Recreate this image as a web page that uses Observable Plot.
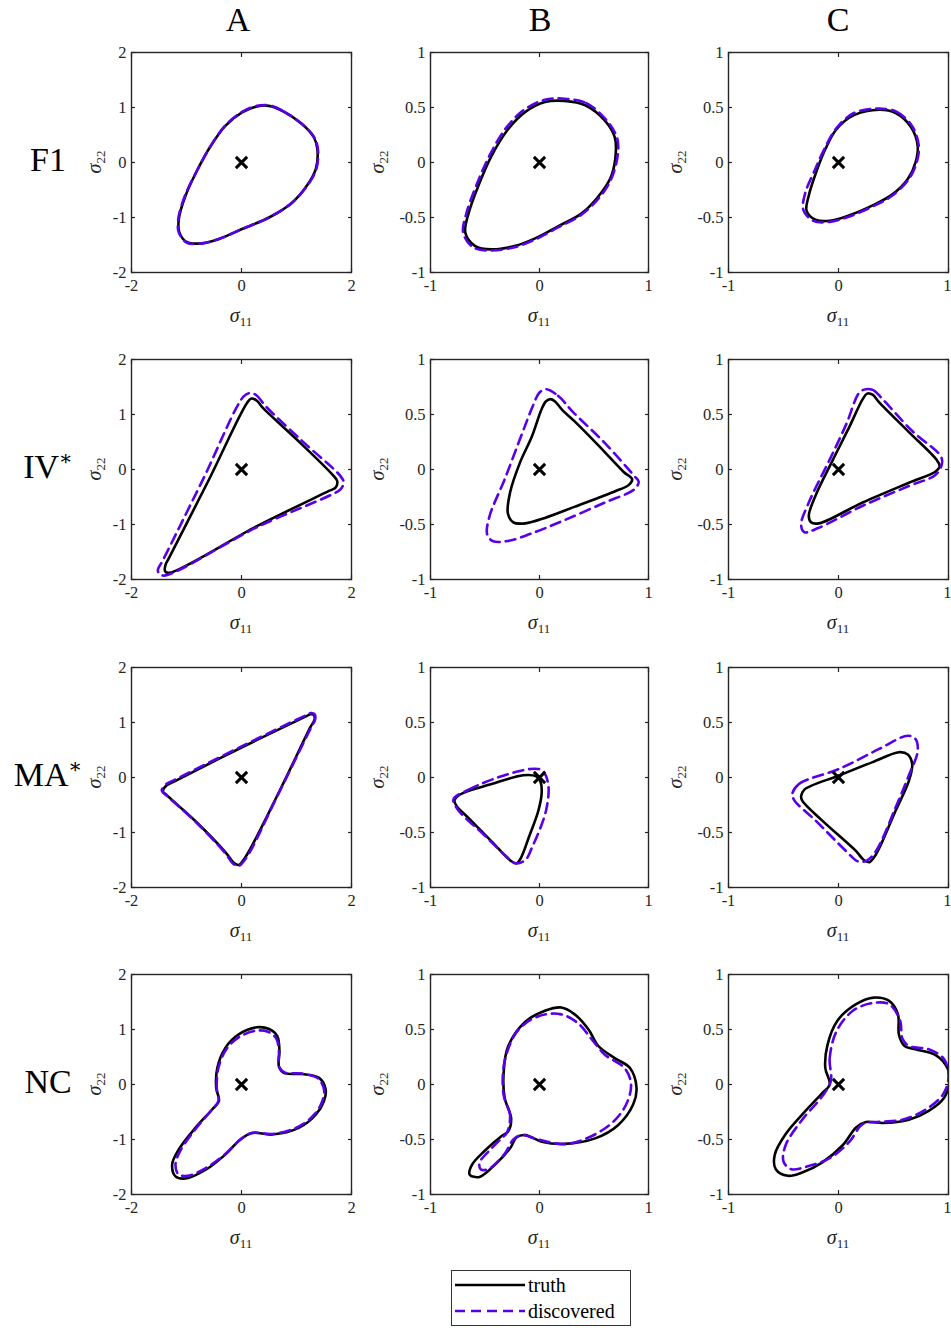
<!DOCTYPE html>
<html><head><meta charset="utf-8">
<script src="https://cdn.jsdelivr.net/npm/d3@7"></script>
<script src="https://cdn.jsdelivr.net/npm/@observablehq/plot@0.6"></script>
<style>
html,body{margin:0;padding:0;background:#fff;overflow:hidden;}
#root{position:relative;width:951px;height:1328px;overflow:hidden;font-family:"Liberation Serif","DejaVu Serif",serif;color:#000;}
.lab{position:absolute;white-space:nowrap;line-height:1;}
.axl{font-size:20px;color:#262626;}
.axl i{font-style:italic;}
.axl sub{font-size:0.65em;vertical-align:-0.3em;line-height:0;}
.hdr{font-size:34px;}
.hdr sup{font-size:0.6em;vertical-align:0.65em;line-height:0;}
#legend{position:absolute;left:451px;top:1270px;width:178px;height:54px;border:1.3px solid #333;background:#fff;font-size:20px;}
#legend .row{position:absolute;left:2px;height:20px;display:flex;align-items:center;}
#legend svg{display:block;}
</style>
</head><body><div id="root"></div>
<script>
// ---- categories / ticks ----
const rowNames = ["F1", "IV∗", "MA∗", "NC"];
const colNames = ["A", "B", "C"];
const xTicksA = [-2, 0, 2];
const yTicksA = [-2, -1, 0, 1, 2];
const xTicksBC = [-1, 0, 1];
const yTicksBC = [-1, -0.5, 0, 0.5, 1];
const seriesNames = ["truth", "discovered"];
const origin = [[0, 0]];

// ---- F1 ----
const F1_A_truth = [[0.50,1.03],[0.74,0.94],[1.10,0.70],[1.32,0.45],[1.38,0.24],[1.35,-0.12],[1.19,-0.42],[0.92,-0.73],[0.50,-1.00],[0.01,-1.21],[-0.41,-1.39],[-0.72,-1.47],[-0.99,-1.45],[-1.13,-1.27],[-1.14,-1.03],[-1.02,-0.61],[-0.81,-0.15],[-0.56,0.30],[-0.29,0.67],[0.01,0.91],[0.28,1.02]];
const F1_A_disc = [[0.50,1.04],[0.75,0.94],[1.10,0.70],[1.32,0.46],[1.39,0.24],[1.36,-0.12],[1.19,-0.43],[0.92,-0.73],[0.50,-1.00],[0.01,-1.21],[-0.41,-1.39],[-0.72,-1.47],[-0.99,-1.46],[-1.14,-1.27],[-1.15,-1.03],[-1.03,-0.61],[-0.81,-0.15],[-0.56,0.30],[-0.29,0.68],[0.01,0.92],[0.28,1.03]];
const F1_B_truth = [[0.23,0.56],[0.42,0.52],[0.60,0.38],[0.69,0.23],[0.70,0.09],[0.66,-0.12],[0.57,-0.27],[0.39,-0.46],[0.17,-0.58],[-0.04,-0.69],[-0.23,-0.76],[-0.44,-0.79],[-0.59,-0.76],[-0.68,-0.64],[-0.65,-0.46],[-0.56,-0.21],[-0.44,0.06],[-0.29,0.30],[-0.13,0.46],[0.05,0.55]];
const F1_B_disc = [[0.23,0.58],[0.43,0.54],[0.61,0.39],[0.71,0.23],[0.72,0.09],[0.67,-0.12],[0.58,-0.28],[0.39,-0.47],[0.17,-0.59],[-0.04,-0.70],[-0.23,-0.77],[-0.45,-0.80],[-0.61,-0.77],[-0.70,-0.64],[-0.67,-0.46],[-0.58,-0.21],[-0.46,0.06],[-0.31,0.31],[-0.14,0.48],[0.05,0.57]];
const F1_C_truth = [[0.37,0.48],[0.52,0.45],[0.66,0.32],[0.72,0.15],[0.70,0.00],[0.63,-0.15],[0.49,-0.29],[0.31,-0.39],[0.10,-0.48],[-0.08,-0.53],[-0.21,-0.52],[-0.29,-0.44],[-0.27,-0.30],[-0.20,-0.08],[-0.12,0.12],[-0.02,0.30],[0.14,0.43]];
const F1_C_disc = [[0.37,0.49],[0.53,0.46],[0.67,0.33],[0.73,0.15],[0.71,0.00],[0.64,-0.15],[0.49,-0.30],[0.31,-0.40],[0.10,-0.49],[-0.08,-0.54],[-0.23,-0.53],[-0.32,-0.43],[-0.30,-0.27],[-0.22,-0.08],[-0.13,0.12],[-0.02,0.31],[0.14,0.45]];

// ---- IV* ----
const IV_A_truth = [[0.18,1.29],[0.28,1.25],[0.38,1.13],[1.00,0.55],[1.65,-0.09],[1.74,-0.21],[1.71,-0.33],[1.59,-0.39],[0.30,-1.02],[-1.32,-1.88],[-1.39,-1.85],[-1.38,-1.73],[-1.32,-1.61],[-0.60,-0.20],[0.10,1.21]];
const IV_A_disc = [[0.15,1.39],[0.27,1.35],[0.44,1.15],[1.10,0.52],[1.80,-0.12],[1.86,-0.24],[1.80,-0.36],[1.65,-0.45],[0.30,-1.04],[-1.41,-1.93],[-1.50,-1.89],[-1.52,-1.82],[-1.44,-1.67],[-0.70,-0.18],[0.04,1.33]];
const IV_B_truth = [[0.10,0.64],[0.14,0.62],[0.21,0.54],[0.32,0.44],[0.54,0.22],[0.77,-0.02],[0.85,-0.09],[0.82,-0.14],[0.69,-0.20],[0.32,-0.34],[0.05,-0.44],[-0.13,-0.49],[-0.24,-0.48],[-0.29,-0.40],[-0.27,-0.21],[-0.18,0.06],[-0.07,0.30],[0.02,0.55],[0.06,0.62]];
const IV_B_disc = [[0.06,0.73],[0.17,0.67],[0.31,0.52],[0.60,0.24],[0.87,-0.06],[0.91,-0.11],[0.87,-0.18],[0.60,-0.30],[0.23,-0.46],[-0.07,-0.58],[-0.29,-0.65],[-0.43,-0.65],[-0.48,-0.59],[-0.46,-0.43],[-0.32,-0.09],[-0.17,0.30],[-0.06,0.58],[0.00,0.70]];
const IV_C_truth = [[0.26,0.69],[0.31,0.68],[0.37,0.61],[0.64,0.34],[0.89,0.09],[0.92,0.03],[0.88,-0.02],[0.64,-0.12],[0.22,-0.30],[-0.18,-0.49],[-0.25,-0.48],[-0.27,-0.42],[-0.21,-0.24],[-0.05,0.09],[0.10,0.39],[0.22,0.64]];
const IV_C_disc = [[0.25,0.73],[0.32,0.72],[0.40,0.64],[0.67,0.35],[0.93,0.12],[0.94,0.05],[0.88,-0.05],[0.64,-0.15],[0.22,-0.33],[-0.18,-0.53],[-0.31,-0.57],[-0.34,-0.50],[-0.27,-0.30],[-0.08,0.09],[0.07,0.41],[0.19,0.70]];

// ---- MA* ----
const MA_A_truth = [[1.25,1.15],[1.31,1.14],[1.33,1.06],[1.25,0.91],[0.64,-0.35],[0.07,-1.45],[-0.05,-1.59],[-0.14,-1.55],[-0.29,-1.36],[-0.84,-0.79],[-1.35,-0.33],[-1.43,-0.25],[-1.37,-0.15],[-1.20,-0.06],[0.01,0.55],[1.19,1.12]];
const MA_A_disc = [[1.26,1.17],[1.33,1.15],[1.34,1.06],[1.26,0.90],[0.64,-0.36],[0.08,-1.47],[-0.06,-1.61],[-0.16,-1.56],[-0.30,-1.37],[-0.85,-0.79],[-1.36,-0.33],[-1.45,-0.24],[-1.38,-0.13],[-1.21,-0.04],[0.01,0.57],[1.19,1.14]];
const MA_B_truth = [[-0.78,-0.21],[-0.72,-0.15],[-0.44,-0.06],[-0.15,0.02],[-0.03,0.01],[0.01,-0.04],[0.02,-0.14],[-0.01,-0.30],[-0.10,-0.55],[-0.17,-0.73],[-0.21,-0.78],[-0.26,-0.76],[-0.44,-0.58],[-0.65,-0.37],[-0.76,-0.26]];
const MA_B_disc = [[-0.79,-0.20],[-0.65,-0.11],[-0.29,0.03],[-0.04,0.08],[0.03,0.06],[0.08,-0.06],[0.06,-0.30],[-0.07,-0.64],[-0.13,-0.75],[-0.22,-0.78],[-0.29,-0.73],[-0.50,-0.53],[-0.75,-0.29]];
const MA_C_truth = [[-0.34,-0.17],[-0.31,-0.11],[0.01,0.02],[0.31,0.14],[0.55,0.23],[0.63,0.21],[0.67,0.12],[0.64,-0.03],[0.52,-0.30],[0.34,-0.70],[0.28,-0.77],[0.23,-0.75],[0.16,-0.67],[-0.15,-0.39],[-0.33,-0.21]];
const MA_C_disc = [[-0.42,-0.15],[-0.36,-0.06],[0.01,0.08],[0.37,0.26],[0.63,0.38],[0.70,0.35],[0.72,0.24],[0.64,0.02],[0.52,-0.27],[0.34,-0.67],[0.25,-0.76],[0.17,-0.76],[0.07,-0.67],[-0.21,-0.39],[-0.40,-0.21]];

// ---- NC ----
const NC_A_truth = [[-0.41,-0.30],[-0.46,-0.06],[-0.44,0.30],[-0.29,0.67],[-0.05,0.91],[0.28,1.04],[0.50,1.01],[0.65,0.88],[0.69,0.61],[0.68,0.33],[0.77,0.21],[1.10,0.19],[1.41,0.12],[1.53,-0.09],[1.50,-0.30],[1.35,-0.55],[1.04,-0.79],[0.56,-0.91],[0.19,-0.88],[-0.02,-1.00],[-0.29,-1.27],[-0.65,-1.55],[-1.02,-1.71],[-1.20,-1.67],[-1.26,-1.45],[-1.14,-1.18],[-0.84,-0.79],[-0.53,-0.45]];
const NC_A_disc = [[-0.42,-0.30],[-0.45,-0.06],[-0.42,0.30],[-0.27,0.65],[-0.03,0.87],[0.28,0.98],[0.48,0.96],[0.63,0.84],[0.68,0.60],[0.68,0.33],[0.78,0.22],[1.10,0.20],[1.39,0.11],[1.50,-0.09],[1.47,-0.30],[1.33,-0.54],[1.03,-0.77],[0.56,-0.90],[0.19,-0.88],[-0.02,-1.00],[-0.29,-1.26],[-0.65,-1.52],[-0.98,-1.66],[-1.15,-1.63],[-1.20,-1.45],[-1.10,-1.18],[-0.82,-0.79],[-0.53,-0.45]];
const NC_B_truth = [[-0.29,-0.43],[-0.26,-0.31],[-0.32,-0.12],[-0.33,0.09],[-0.29,0.34],[-0.13,0.57],[0.05,0.67],[0.20,0.70],[0.32,0.64],[0.45,0.50],[0.54,0.35],[0.69,0.24],[0.83,0.15],[0.89,-0.03],[0.86,-0.18],[0.72,-0.37],[0.51,-0.49],[0.23,-0.54],[0.02,-0.52],[-0.13,-0.46],[-0.21,-0.48],[-0.27,-0.58],[-0.41,-0.73],[-0.55,-0.84],[-0.64,-0.82],[-0.62,-0.73],[-0.50,-0.60],[-0.35,-0.47]];
const NC_B_disc = [[-0.30,-0.44],[-0.27,-0.28],[-0.33,-0.09],[-0.32,0.21],[-0.20,0.49],[-0.01,0.62],[0.19,0.64],[0.35,0.56],[0.48,0.41],[0.60,0.27],[0.78,0.15],[0.84,0.00],[0.78,-0.21],[0.60,-0.40],[0.26,-0.54],[-0.01,-0.50],[-0.16,-0.46],[-0.24,-0.50],[-0.32,-0.63],[-0.47,-0.77],[-0.54,-0.77],[-0.55,-0.71],[-0.45,-0.59],[-0.35,-0.49]];
const NC_C_truth = [[-0.08,0.00],[-0.12,0.15],[-0.10,0.36],[-0.01,0.58],[0.16,0.73],[0.32,0.79],[0.46,0.76],[0.54,0.64],[0.55,0.45],[0.60,0.35],[0.70,0.32],[0.88,0.27],[0.99,0.15],[1.01,0.03],[0.96,-0.12],[0.82,-0.24],[0.64,-0.32],[0.40,-0.35],[0.25,-0.34],[0.16,-0.39],[0.04,-0.55],[-0.15,-0.71],[-0.33,-0.80],[-0.46,-0.83],[-0.57,-0.77],[-0.58,-0.64],[-0.48,-0.45],[-0.30,-0.24],[-0.15,-0.08]];
const NC_C_disc = [[-0.07,0.03],[-0.08,0.24],[-0.02,0.48],[0.13,0.67],[0.31,0.74],[0.46,0.73],[0.56,0.58],[0.58,0.42],[0.64,0.35],[0.82,0.32],[0.96,0.23],[1.00,0.06],[0.95,-0.09],[0.79,-0.23],[0.58,-0.32],[0.37,-0.34],[0.22,-0.36],[0.10,-0.52],[-0.08,-0.67],[-0.30,-0.75],[-0.43,-0.77],[-0.50,-0.70],[-0.48,-0.55],[-0.33,-0.32],[-0.15,-0.11]];

// ---- layout ----
const TRUTH_COLOR = "#000000";
const DISC_COLOR = "#5a00e6";
const colLeft = [131, 430, 728];
const colW = [220, 218, 220];
const rowTop = [52, 359, 667, 974];
const PH = 220;
const ML = 50, MT = 10, MR = 30, MB = 50;

const curves = [
  [[F1_A_truth, F1_A_disc], [F1_B_truth, F1_B_disc], [F1_C_truth, F1_C_disc]],
  [[IV_A_truth, IV_A_disc], [IV_B_truth, IV_B_disc], [IV_C_truth, IV_C_disc]],
  [[MA_A_truth, MA_A_disc], [MA_B_truth, MA_B_disc], [MA_C_truth, MA_C_disc]],
  [[NC_A_truth, NC_A_disc], [NC_B_truth, NC_B_disc], [NC_C_truth, NC_C_disc]]
];

const root = document.getElementById("root");
const fmt = d => String(d);
const blank = () => "";

function addLabel(html, cls, x, y, rotate) {
  const el = document.createElement("div");
  el.className = "lab " + cls;
  el.innerHTML = html;
  el.style.left = x + "px";
  el.style.top = y + "px";
  el.style.transform = "translate(-50%,-50%)" + (rotate ? " rotate(-90deg)" : "");
  root.appendChild(el);
}

for (let r = 0; r < 4; r++) {
  for (let c = 0; c < 3; c++) {
    const isA = c === 0;
    const isLast = c === 2;
    const dom = isA ? [-2, 2] : [-1, 1];
    const xt = isA ? xTicksA : xTicksBC;
    const yt = isA ? yTicksA : yTicksBC;
    const W = colW[c];
    const [truth, disc] = curves[r][c];
    // the last column's right-most label sits at the page edge: nudge it inward
    const xtMain = isLast ? xt.slice(0, -1) : xt;
    const xtEdge = isLast ? xt.slice(-1) : [];
    const svg = Plot.plot({
      width: W + ML + MR,
      height: PH + MT + MB,
      marginLeft: ML, marginRight: MR, marginTop: MT, marginBottom: MB,
      style: {fontFamily: "'Liberation Serif', 'DejaVu Serif', serif", fontSize: "16.5px", color: "#262626", background: "transparent", overflow: "visible"},
      x: {domain: dom},
      y: {domain: dom},
      marks: [
        Plot.axisX({ticks: xtMain, anchor: "bottom", tickSize: 0, tickPadding: 7, tickFormat: fmt, label: null, fill: "#262626"}),
        isLast ? Plot.axisX({ticks: xtEdge, anchor: "bottom", tickSize: 0, tickPadding: 7, tickFormat: fmt, label: null, fill: "#262626", textAnchor: "end", dx: 3}) : null,
        Plot.axisY({ticks: yt, anchor: "left", tickSize: 0, tickPadding: 5, tickFormat: fmt, label: null, fill: "#262626"}),
        Plot.axisX({ticks: xt, anchor: "bottom", tickSize: -4, tickFormat: blank, label: null, stroke: "#262626", strokeWidth: 1.2}),
        Plot.axisX({ticks: xt, anchor: "top", tickSize: -4, tickFormat: blank, label: null, stroke: "#262626", strokeWidth: 1.2}),
        Plot.axisY({ticks: yt, anchor: "left", tickSize: -4, tickFormat: blank, label: null, stroke: "#262626", strokeWidth: 1.2}),
        Plot.axisY({ticks: yt, anchor: "right", tickSize: -4, tickFormat: blank, label: null, stroke: "#262626", strokeWidth: 1.2}),
        Plot.line(truth, {x: d => d[0], y: d => d[1], curve: "catmull-rom-closed", stroke: TRUTH_COLOR, strokeWidth: 2.6, clip: true}),
        Plot.line(disc, {x: d => d[0], y: d => d[1], curve: "catmull-rom-closed", stroke: DISC_COLOR, strokeWidth: 2.6, strokeDasharray: "10,6", clip: true}),
        Plot.dot(origin, {x: d => d[0], y: d => d[1], symbol: "times", r: 5.2, stroke: "#000", strokeWidth: 3}),
        Plot.frame({stroke: "#262626", strokeWidth: 1.4})
      ]
    });
    svg.style.position = "absolute";
    svg.style.left = (colLeft[c] - ML) + "px";
    svg.style.top = (rowTop[r] - MT) + "px";
    svg.style.maxWidth = "none";
    root.appendChild(svg);

    // axis labels
    addLabel("<i>σ</i><sub>11</sub>", "axl", colLeft[c] + W / 2, rowTop[r] + PH + 43, false);
    addLabel("<i>σ</i><sub>22</sub>", "axl", colLeft[c] - (isA ? 37 : 53), rowTop[r] + PH / 2, true);
  }
}

// column headers
const colCenters = [238, 540, 838];
colNames.forEach((n, c) => addLabel(n, "hdr", colCenters[c], 20, false));
// row labels
rowNames.forEach((n, r) => {
  const html = n.endsWith("∗") ? n.slice(0, -1) + "<sup>∗</sup>" : n;
  addLabel(html, "hdr", 48, rowTop[r] + 108, false);
});

// legend
const leg = document.createElement("div");
leg.id = "legend";
seriesNames.forEach((name, i) => {
  const row = document.createElement("div");
  row.className = "row";
  row.style.top = (4 + i * 26) + "px";
  const col = i === 0 ? TRUTH_COLOR : DISC_COLOR;
  const dash = i === 0 ? "" : ' stroke-dasharray="10,6"';
  row.innerHTML = `<svg width="72" height="20"><line x1="1" y1="10" x2="71" y2="10" stroke="${col}" stroke-width="2.6"${dash}/></svg><span style="margin-left:2px">${name}</span>`;
  leg.appendChild(row);
});
root.appendChild(leg);
</script>
</body></html>
